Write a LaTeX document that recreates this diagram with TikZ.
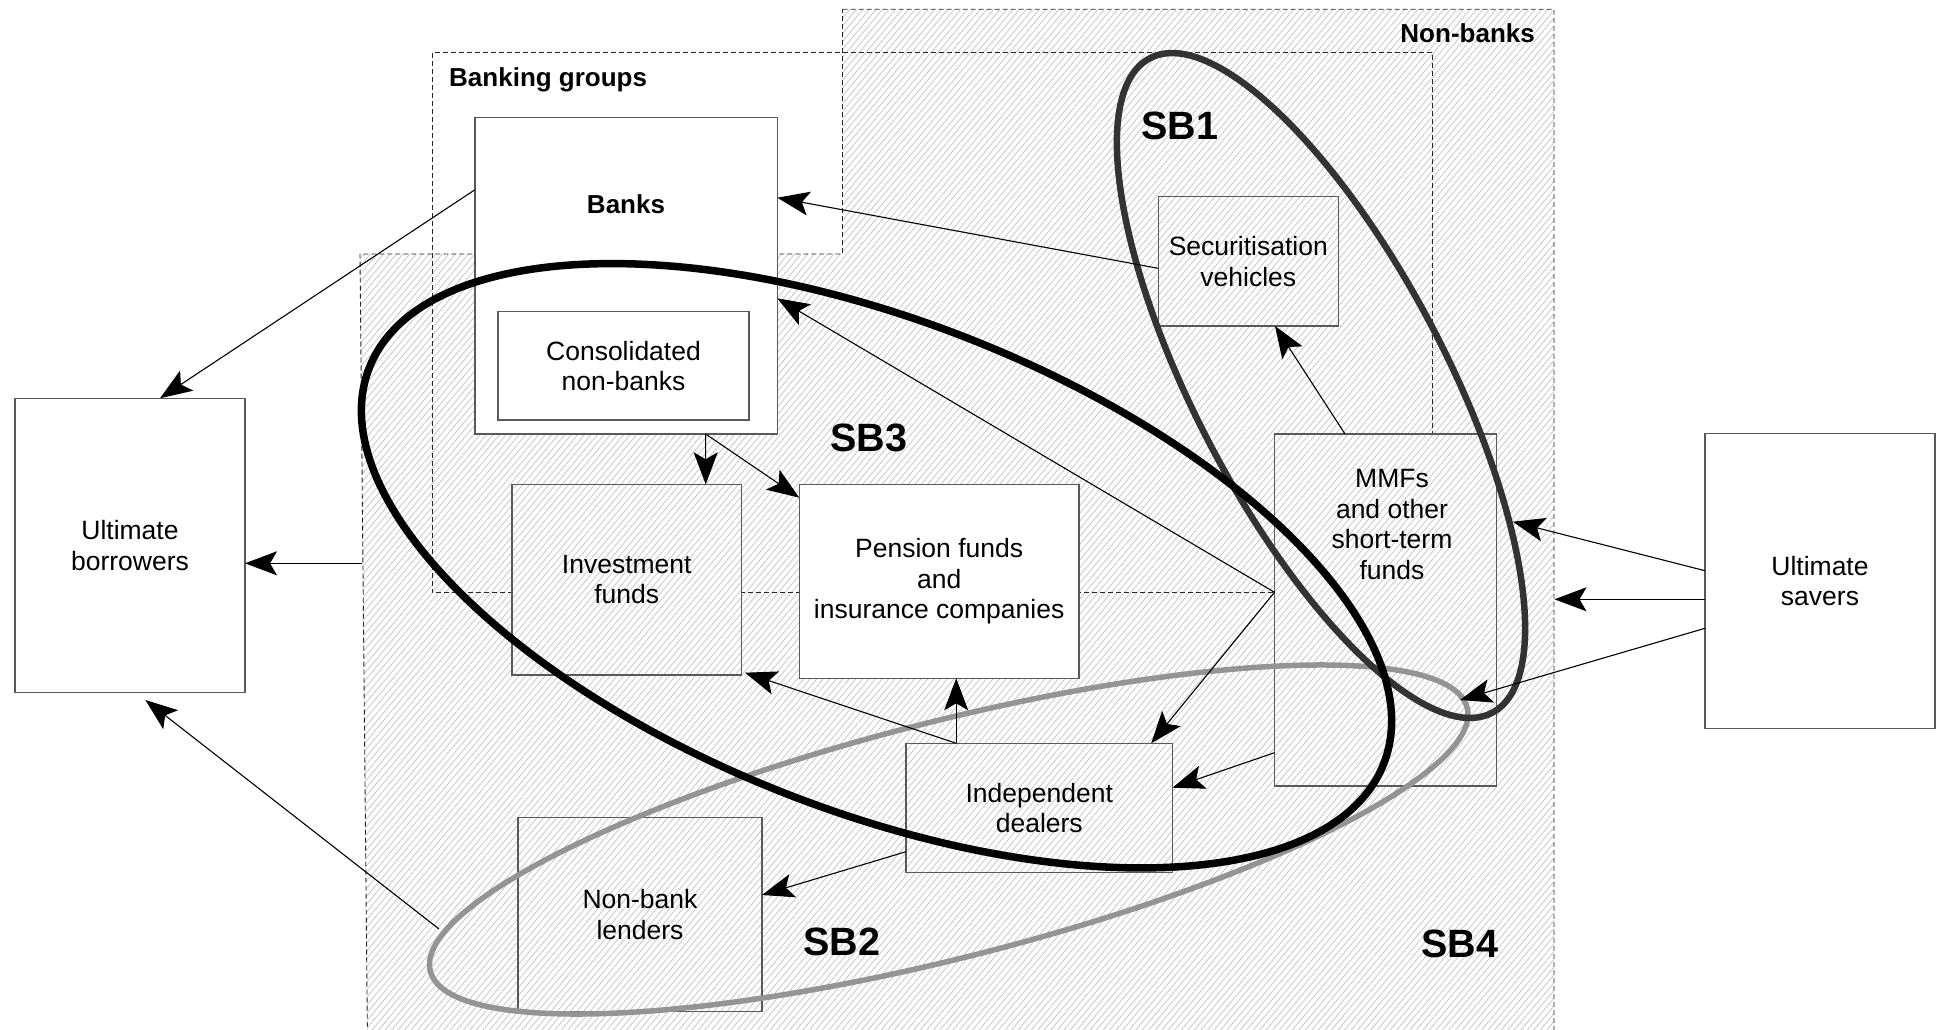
\documentclass[tikz,border=0pt]{standalone}
\usepackage{fontspec}
\setmainfont{Liberation Sans}
\usetikzlibrary{arrows.meta,patterns.meta}

\newcommand\txtbody{\fontsize{26.5}{30.5}\selectfont}
\newcommand\txtlbl{\fontsize{26}{30}\selectfont\bfseries}
\newcommand\txtsb{\fontsize{39.5}{44}\selectfont\bfseries}

\begin{document}
\begin{tikzpicture}[x=1pt,y=-1pt,
  box/.style={draw=black!65, line width=1.4pt, inner sep=0pt, outer sep=0pt,
    align=center, font=\txtbody},
  plain/.style={fill=white},
  hatch/.style={preaction={fill=white},
    pattern={Lines[angle=50,distance=5pt,line width=0.8pt]},
    pattern color=black!22},
  group/.style={draw=black!85, line width=0.9pt, dash pattern=on 5pt off 3pt},
  link/.style={draw=black, line width=1.1pt,
    -{Stealth[length=32pt,width=24pt,inset=7pt]}},
  lbl/.style={inner sep=0pt, font=\txtlbl},
  sblbl/.style={inner sep=0pt, font=\txtsb},
  txt/.style={inner sep=0pt, align=center, font=\txtbody}
]
\useasboundingbox (0,0) rectangle (1939,1030);
\clip (0,0) rectangle (1939,1030);

% non-bank sector (hatched, dashed outline)
\path[hatch, group] (842.5,9.3) -- (1554,9.3) -- (1554,1045) -- (367.5,1045)
  -- (360,254) -- (842.5,254) -- cycle;

% banking groups
\draw[group] (432,52.7) rectangle (1432.3,592.3);

% entities
\node[box, plain, minimum width=230pt, minimum height=294.4pt] (borrowers) at (130,545.5) {Ultimate\\borrowers};
\node[box, plain, minimum width=230pt, minimum height=295pt] (savers) at (1820,580.8) {Ultimate\\savers};
\node[box, plain, minimum width=302.3pt, minimum height=316.3pt] (banks) at (626.15,275.85) {};
\node[lbl] (bankstext) at (626,204.5) {Banks};
\node[box, plain, minimum width=251pt, minimum height=108.3pt] (cons) at (623.5,365.85) {Consolidated\\non-banks};
\node[box, hatch, minimum width=180pt, minimum height=129.3pt] (secur) at (1248.3,261.35) {Securitisation\\vehicles};
\node[box, hatch, minimum width=229.5pt, minimum height=190.7pt] (inv) at (626.75,579.65) {Investment\\funds};
\node[box, plain, minimum width=279.7pt, minimum height=194pt] (pens) at (939.15,581.3) {Pension funds\\and\\insurance companies};
\node[box, hatch, minimum width=222pt, minimum height=352pt] (mmf) at (1385.5,610) {};
\node[txt] (mmftext) at (1392,524.7) {MMFs\\and other\\short-term\\funds};
\node[box, hatch, minimum width=266.5pt, minimum height=129pt] (dealers) at (1039.25,807.8) {Independent\\dealers};
\node[box, hatch, minimum width=244pt, minimum height=194pt] (lenders) at (640,914.7) {Non-bank\\lenders};

% shadow banking perimeters
\draw[line width=5.5pt, draw=black!42, rotate around={14.25:(948.75,839.5)}]
  (948.75,839.5) ellipse [x radius=534.9, y radius=118.2];
\draw[line width=6.5pt, draw=black!80, rotate around={-62.4:(1321,385.5)}]
  (1321,385.5) ellipse [x radius=369.3, y radius=125.6];
\draw[line width=7.5pt, draw=black, rotate around={-21.3:(876.5,565.75)}]
  (876.5,565.75) ellipse [x radius=544.5, y radius=245.2];

% free ends of connectors
\coordinate (nbleft) at (361.5,563.3);
\coordinate (sbtwoleft) at (439,929);
\coordinate (sbonetip) at (1512.8,521.7);
\coordinate (nbright) at (1554.5,599.3);
\coordinate (sbtwotip) at (1460,700);

% flows
\draw[link] ([yshift=86.15pt]banks.west) -- ([xshift=30pt]borrowers.north);
\draw[link] (nbleft) -- ([yshift=-17.8pt]borrowers.east);
\draw[link] (sbtwoleft) -- ([xshift=15.4pt,yshift=-7.3pt]borrowers.south);
\draw[link] ([yshift=-7pt]secur.west) -- ([yshift=78.15pt]banks.east);
\draw[link] ([yshift=17.7pt]mmf.west) -- ([yshift=-22.45pt]banks.east);
\draw[link] ([yshift=17.7pt]mmf.west) -- ([xshift=-21.3pt]dealers.north east);
\draw[link] ([xshift=-40.5pt]mmf.north) -- ([xshift=26.7pt]secur.south);
\draw[link] ([yshift=-142.7pt]mmf.west) -- ([yshift=20.1pt]dealers.east);
\draw[link] ([xshift=79.5pt]banks.south) -- ([xshift=78.95pt]inv.north);
\draw[link] ([xshift=79.5pt]banks.south) -- ([yshift=83.6pt]pens.west);
\draw[link] ([xshift=-83.05pt]dealers.north) -- ([xshift=17.05pt]pens.south);
\draw[link] ([xshift=-83.05pt]dealers.north) -- ([xshift=3.5pt,yshift=2.3pt]inv.south east);
\draw[link] ([yshift=-43.9pt]dealers.west) -- ([yshift=19.7pt]lenders.east);
\draw[link] ([yshift=10.1pt]savers.west) -- (sbonetip);
\draw[link] ([yshift=-18.5pt]savers.west) -- (nbright);
\draw[link] ([yshift=-47.5pt]savers.west) -- (sbtwotip);

% captions
\node[lbl, anchor=base west] (bglabel) at (449,87) {Banking groups};
\node[lbl, anchor=base east] (nblabel) at (1535,43) {Non-banks};
\node[sblbl, anchor=base west] (sbone) at (1141,140) {SB1};
\node[sblbl, anchor=base west] (sbthree) at (830,451) {SB3};
\node[sblbl, anchor=base west] (sbtwo) at (803,955) {SB2};
\node[sblbl, anchor=base west] (sbfour) at (1421,957.3) {SB4};
\end{tikzpicture}
\end{document}
